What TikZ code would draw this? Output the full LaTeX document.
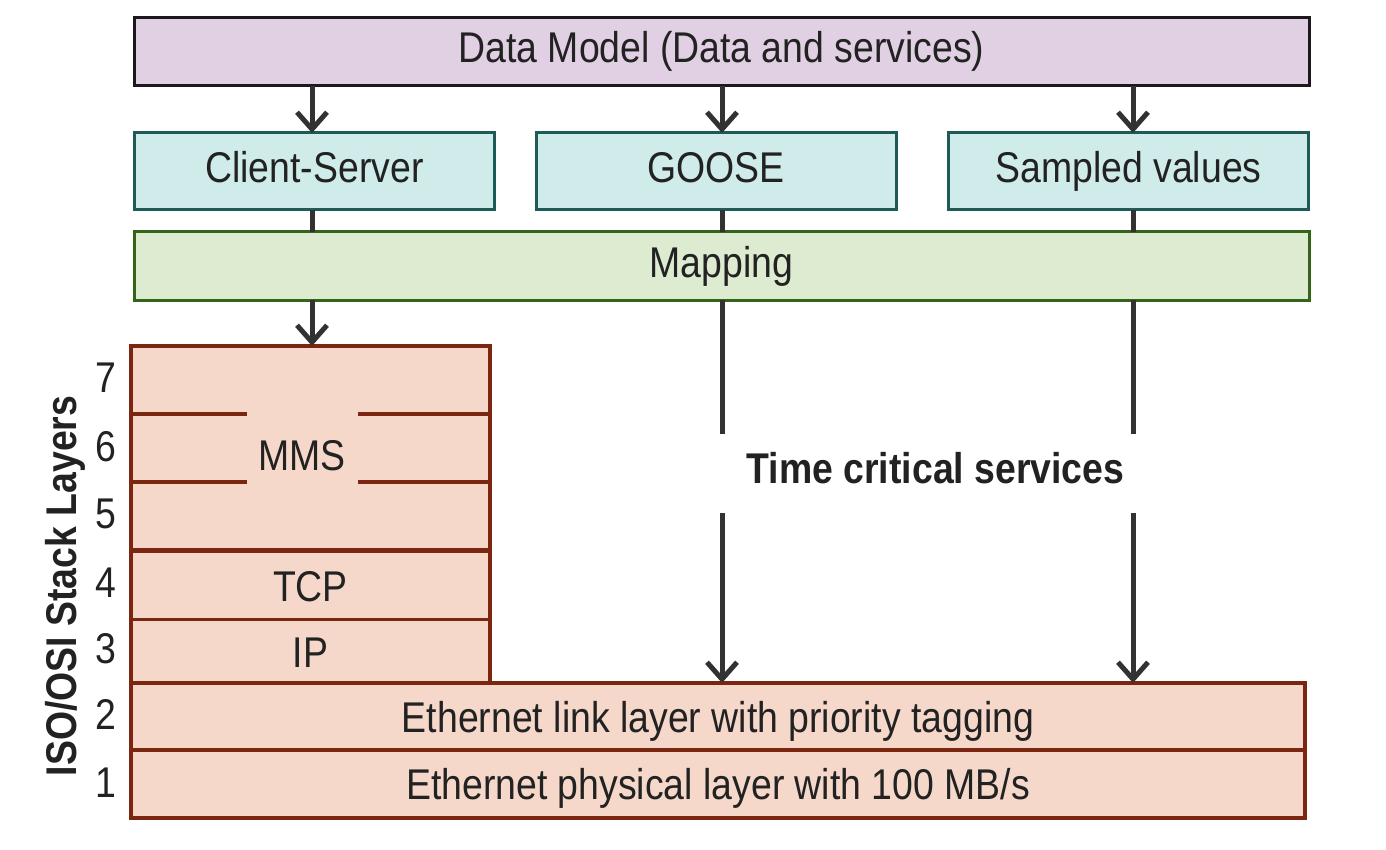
\documentclass[tikz,border=0pt]{standalone}
\usepackage{fontspec}
\setmainfont{Liberation Sans}[FakeStretch=0.87]
\usetikzlibrary{arrows.meta}
\definecolor{dmfill}{RGB}{225,208,227}
\definecolor{dmline}{RGB}{28,24,28}
\definecolor{svfill}{RGB}{208,236,234}
\definecolor{svline}{RGB}{30,90,86}
\definecolor{mpfill}{RGB}{221,235,209}
\definecolor{mpline}{RGB}{52,100,24}
\definecolor{stfill}{RGB}{245,216,202}
\definecolor{stline}{RGB}{122,38,16}
\definecolor{conncol}{RGB}{50,50,50}
\definecolor{txt}{RGB}{34,34,34}
\begin{document}
\begin{tikzpicture}[x=1pt,y=-1pt,
  every node/.style={font=\fontsize{43}{50}\selectfont, text=txt, inner sep=0pt, outer sep=0pt},
  lbl/.style={text height=31pt, text depth=0pt},
  topbox/.style={text height=31pt, text depth=9pt},
  dmbox/.style={topbox, draw=dmline, fill=dmfill, line width=3pt},
  svbox/.style={topbox, draw=svline, fill=svfill, line width=3pt, minimum width=360pt, minimum height=77pt},
  mpbox/.style={topbox, draw=mpline, fill=mpfill, line width=3pt},
  stbox/.style={lbl, draw=stline, fill=stfill, line width=3.5pt, minimum width=359pt},
  wide/.style={lbl, draw=stline, fill=stfill, line width=3.5pt, minimum width=1174pt, minimum height=67pt},
  conn/.style={draw=conncol, line width=5pt},
  arr/.style={conn, -{Straight Barb[length=17pt,width=30pt]}}
]
\useasboundingbox (0,0) rectangle (1386,850);
% columns
\coordinate (xa) at (312,0);
\coordinate (xb) at (722,0);
\coordinate (xc) at (1133,0);
% top
\node[dmbox, minimum width=1175pt, minimum height=68pt] (dm) at (721.5,52) {Data Model (Data and services)};
\node[svbox] (cs) at (314.5,171.5) {Client-Server};
\node[svbox] (goose) at (716,171.5) {GOOSE};
\node[svbox] (sv) at (1128.5,171.5) {Sampled values};
\node[mpbox, minimum width=1175pt, minimum height=68pt] (map) at (721.5,266) {Mapping};
% stack
\node[stbox, minimum height=204pt] (mms) at (310.5,448) {};
\node[lbl] (mmstext) at (302,455) {MMS};
\node[stbox, minimum height=69pt] (tcp) at (310.5,586) {TCP};
\node[stbox, minimum height=64pt] (ip) at (310.5,651.5) {IP};
\node[wide] (l2) at (718,716.5) {Ethernet link layer with priority tagging};
\node[wide, minimum height=68pt] (l1) at (718,784) {Ethernet physical layer with 100 MB/s};
% partial layer lines
\coordinate (gl) at (247,0);
\coordinate (gr) at (358,0);
\draw[draw=stline, line width=3.5pt] (mms.west |- 0,414) -- (gl |- 0,414);
\draw[draw=stline, line width=3.5pt] (gr |- 0,414) -- (mms.east |- 0,414);
\draw[draw=stline, line width=3.5pt] (mms.west |- 0,482) -- (gl |- 0,482);
\draw[draw=stline, line width=3.5pt] (gr |- 0,482) -- (mms.east |- 0,482);
% layer numbers
\node[lbl] (n7) at (106,377) {7};
\node[lbl] (n6) at (106,446) {6};
\node[lbl] (n5) at (106,513) {5};
\node[lbl] (n4) at (106,582) {4};
\node[lbl] (n3) at (106,648) {3};
\node[lbl] (n2) at (106,714) {2};
\node[lbl] (n1) at (106,782) {1};
\node[lbl, font=\fontsize{43}{50}\selectfont\bfseries, rotate=90] (osi) at (61,586) {ISO/OSI Stack Layers};
% time critical label
\node[lbl, font=\fontsize{43}{50}\selectfont\bfseries] (tcs) at (935.5,467.5) {Time critical services};
\coordinate (g1) at (722,434);
\coordinate (g2) at (722,513);
\coordinate (s1) at (1133,434);
\coordinate (s2) at (1133,513);
% connectors
\draw[arr] (dm.south -| xa) -- (cs.north -| xa);
\draw[arr] (dm.south -| xb) -- (goose.north -| xb);
\draw[arr] (dm.south -| xc) -- (sv.north -| xc);
\draw[conn] (cs.south -| xa) -- (map.north -| xa);
\draw[conn] (goose.south -| xb) -- (map.north -| xb);
\draw[conn] (sv.south -| xc) -- (map.north -| xc);
\draw[arr] (map.south -| xa) -- (mms.north -| xa);
\draw[conn] (map.south -| xb) -- (g1);
\draw[arr] (g2) -- (l2.north -| xb);
\draw[conn] (map.south -| xc) -- (s1);
\draw[arr] (s2) -- (l2.north -| xc);
\end{tikzpicture}
\end{document}
